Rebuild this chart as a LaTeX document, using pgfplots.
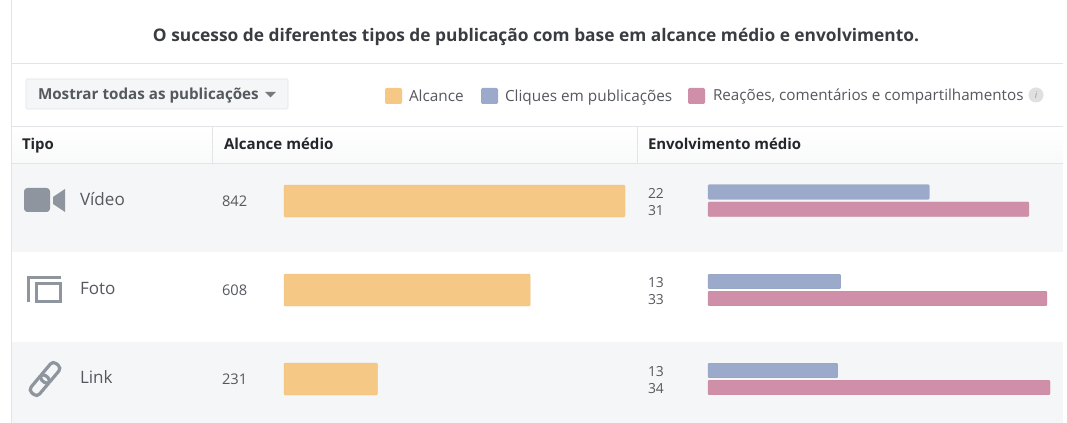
\documentclass[border=0pt]{standalone}
\usepackage{fontspec}
\usepackage{pgfplots}
\pgfplotsset{compat=1.18}
\setmainfont{Open Sans}
\definecolor{oran}{HTML}{F6C885}
\definecolor{blu}{HTML}{9BA9CB}
\definecolor{pnk}{HTML}{CF8FA8}
\definecolor{rowbg}{HTML}{F5F6F7}
\definecolor{linec}{HTML}{E2E4E7}
\definecolor{txt}{HTML}{55585E}
\definecolor{hdr}{HTML}{23262B}
\definecolor{icon}{HTML}{8E959E}
\newcommand{\fs}[1]{\fontsize{#1}{#1}\selectfont}
\begin{document}
\begin{tikzpicture}[x=0.75pt,y=-0.75pt,every node/.style={inner sep=0pt,outer sep=0pt}]
\useasboundingbox (0,0) rectangle (1067,423);
% panel
\fill[white] (0,0) rectangle (1067,423);
\fill[rowbg] (12,164) rectangle (1063,252);
\fill[rowbg] (12,342) rectangle (1063,423);
\shade[top color=white,bottom color=rowbg!60] (12,127) rectangle (1063,164);
\draw[linec,line width=0.75pt] (11,0) -- (11,423);
\draw[linec,line width=0.75pt] (11,64) -- (1063,64);
\draw[linec,line width=0.75pt] (11,127) -- (1063,127);
\draw[linec,line width=0.75pt] (11,164) -- (1063,164);
\draw[linec,line width=0.75pt] (212,127) -- (212,164);
\draw[linec,line width=0.75pt] (637,127) -- (637,164);
% title
\node[anchor=base,text=hdr!90!white,font=\fs{13}\bfseries] at (536,42) {O sucesso de diferentes tipos de publicação com base em alcance médio e envolvimento.};
% dropdown
\draw[draw=linec,fill=rowbg,rounded corners=1pt] (26,79) rectangle (288,109);
\node[anchor=base west,text=txt,font=\fs{11.4}\bfseries] at (38,100) {Mostrar todas as publicações};
\fill[txt!80] (265,92) -- (276,92) -- (270.5,97.5) -- cycle;
% legend
\fill[oran,rounded corners=1pt] (385,88) rectangle (402,104);
\node[anchor=base west,text=txt,font=\fs{11.5}] at (409,102) {Alcance};
\fill[blu,rounded corners=1pt] (481,88) rectangle (498,104);
\node[anchor=base west,text=txt,font=\fs{11.5}] at (505,102) {Cliques em publicações};
\fill[pnk,rounded corners=1pt] (688,88) rectangle (705,104);
\node[anchor=base west,text=txt,font=\fs{11.4}] at (713,101) {Reações, comentários e compartilhamentos};
\fill[black!12] (1036,95) circle (7.5);
\node[text=black!40,font=\fs{7}\itshape] at (1036,95) {i};
% headers
\node[anchor=base west,text=hdr,font=\fs{11.2}\bfseries] at (22,150) {Tipo};
\node[anchor=base west,text=hdr,font=\fs{11.3}\bfseries] at (224,150) {Alcance médio};
\node[anchor=base west,text=hdr,font=\fs{11.2}\bfseries] at (648,150) {Envolvimento médio};
% row labels
\node[anchor=base west,text=txt,font=\fs{12.8}] at (80,205.5) {Vídeo};
\node[anchor=base west,text=txt,font=\fs{12.8}] at (80,294.5) {Foto};
\node[anchor=base west,text=txt,font=\fs{12.8}] at (80,383.5) {Link};
% values
\foreach \v/\y in {842/207,608/296,231/385}{
\node[anchor=base west,text=txt,font=\fs{11}] at (222,\y) {\v};}
\foreach \v/\y in {22/198.5,31/216,13/288,33/305,13/377,34/394}{
\node[anchor=base west,text=txt,font=\fs{10.4}] at (648,\y) {\v};}
% icons
\fill[icon,rounded corners=2.5pt] (24,188) rectangle (50,212);
\fill[icon] (53,197) -- (65,189) -- (65,212) -- (53,204) -- cycle;
\draw[icon,line width=2.25pt] (36.5,283.5) rectangle (60.5,301.5);
\draw[icon,line width=1.7pt] (28.5,302) -- (28.5,277.5) -- (61,277.5);
\begin{scope}[shift={(45,379)},rotate=50]
\draw[icon,line width=2.4pt,rounded corners=3pt] (-19,-5.5) rectangle (3,5.5);
\draw[icon,line width=2.4pt,rounded corners=3pt] (-3,-5.5) rectangle (19,5.5);
\end{scope}
% left bars
\begin{axis}[at={(213pt,0pt)},anchor=north west,scale only axis,width=255.75pt,height=317.25pt,
  hide axis,clip=false,y dir=reverse,xmin=0,xmax=842,ymin=0,ymax=423,
  xbar,bar shift=0pt,bar width=24pt]
\addplot[draw=oran!96!black,line width=0.2pt,fill=oran,rounded corners=0.8pt] coordinates {(842,201) (608,290) (231,379)};
\end{axis}
% right bars
\begin{axis}[at={(531pt,0pt)},anchor=north west,scale only axis,width=256.5pt,height=317.25pt,
  hide axis,clip=false,y dir=reverse,xmin=0,xmax=34,ymin=0,ymax=423,
  xbar,bar shift=0pt,bar width=11pt]
\addplot[draw=blu!96!black,line width=0.2pt,fill=blu,rounded corners=0.8pt] coordinates {(22,192) (13.2,281.5) (12.9,370.5)};
\addplot[draw=pnk!96!black,line width=0.2pt,fill=pnk,rounded corners=0.8pt] coordinates {(31.9,209.3) (33.7,298.5) (34,387.5)};
\end{axis}
\end{tikzpicture}
\end{document}
